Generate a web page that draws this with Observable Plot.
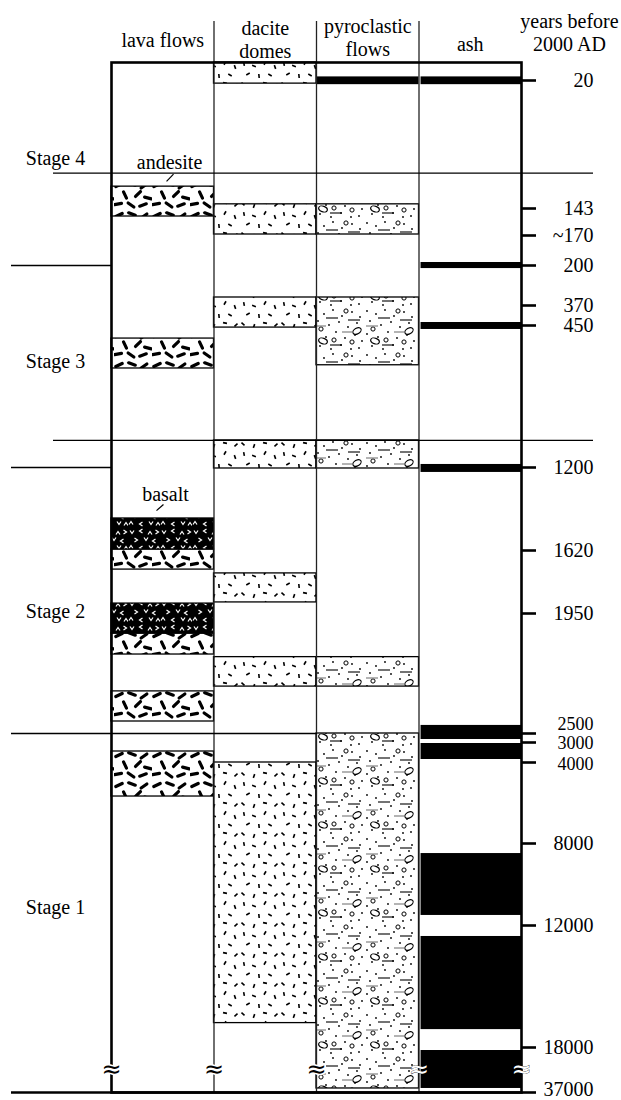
<!DOCTYPE html>
<html>
<head>
<meta charset="utf-8">
<script src="https://cdn.jsdelivr.net/npm/d3@7"></script>
<script src="https://cdn.jsdelivr.net/npm/@observablehq/plot@0.6"></script>
<style>
  html, body { margin: 0; padding: 0; background: #fff; }
</style>
</head>
<body>
<div id="chart"></div>
<script>
// ---------- data ----------
const columns = ["lava flows", "dacite domes", "pyroclastic flows", "ash"];
const columnHeaders = ["lava flows", "dacite\ndomes", "pyroclastic\nflows", "ash"];

// right-hand age ticks (years before 2000 AD)
const tickYears  = [20, 143, 170, 200, 370, 450, 1200, 1620, 1950, 2500, 3000, 4000, 8000, 12000, 18000, 37000];
const tickLabels = ["20", "143", "~170", "200", "370", "450", "1200", "1620", "1950", "2500", "3000", "4000", "8000", "12000", "18000", "37000"];

// lava flows column
const lavaRock = ["andesite", "andesite", "basalt", "andesite", "basalt", "andesite", "andesite", "andesite"];
const lavaTop  = [122, 519, 1458, 1615, 1898, 2042, 2307, 3450];
const lavaBase = [151, 677, 1615, 1720, 2042, 2138, 2445, 5680];

// dacite domes column
const daciteTop  = [0, 139, 336, 1057, 1740, 2150, 4000];
const daciteBase = [23, 169, 461, 1205, 1892, 2285, 16800];

// pyroclastic flows column (first entry: ash band that also crosses this column)
const pyroRock = ["ash", "pyroclastic", "pyroclastic", "pyroclastic", "pyroclastic", "pyroclastic"];
const pyroTop  = [16, 139, 336, 1057, 2150, 2500];
const pyroBase = [24, 169, 660, 1205, 2285, 35300];

// ash column
const ashTop  = [16, 197, 438, 1184, 2463, 3050, 8490, 12540, 19270];
const ashBase = [24, 213, 471, 1225, 2833, 3850, 11510, 17120, 35300];

// stages
const stageNames     = ["Stage 4", "Stage 3", "Stage 2", "Stage 1"];
const stageLabelYear = [101, 677, 1970, 11416];
const longBoundaries  = [109, 1057];   // lines crossing the columns
const shortBoundaries = [200, 1200];   // lines on the left margin only
const fullBoundaries  = [2500];

// rock labels
const rockLabelText = ["andesite", "basalt"];
const rockLabelPos  = [0.566, 0.527];   // position across the lava column
const rockLabelYear = [105, 1372];
const leaderFrom = [[0.605, 110], [0.507, 1387]];
const leaderTo   = [[0.537, 117], [0.439, 1418]];

const breakYear = 27000;

// ---------- build tables ----------
const layers = [
  ...lavaRock.map((r, i) => ({col: 0, rock: r, top: lavaTop[i], base: lavaBase[i]})),
  ...daciteTop.map((t, i) => ({col: 1, rock: "dacite", top: t, base: daciteBase[i]})),
  ...pyroRock.map((r, i) => ({col: 2, rock: r, top: pyroTop[i], base: pyroBase[i]})),
  ...ashTop.map((t, i) => ({col: 3, rock: "ash", top: t, base: ashBase[i]}))
];
const stages = stageNames.map((s, i) => ({name: s, year: stageLabelYear[i]}));
const ticks = tickYears.map((y, i) => ({year: y, label: tickLabels[i]}));
const rockLabels = rockLabelText.map((t, i) => ({text: t, x: rockLabelPos[i], year: rockLabelYear[i]}));
const leaders = leaderFrom.map((f, i) => ({x1: f[0], y1: f[1], x2: leaderTo[i][0], y2: leaderTo[i][1]}));

const rockFill = {
  andesite: "url(#pat-andesite)",
  basalt: "url(#pat-basalt)",
  dacite: "url(#pat-dacite)",
  pyroclastic: "url(#pat-pyro)",
  ash: "black"
};

const headerDy = [-16, -5, -7, -12];
// crowded labels: nudge and slightly smaller
const labelNudge = {2500: -9, 3000: 1, 4000: 2, 37000: -3};
const crowded = new Set([2500, 3000, 4000]);
const serif = "'Liberation Serif', 'Times New Roman', Times, serif";

const layerMarks = Object.keys(rockFill).map(r =>
  Plot.rect(layers.filter(d => d.rock === r), {
    x1: d => d.col + (r === "ash" && d.col === 3 ? 0.02 : 0),
    x2: d => d.col + 1,
    y1: "top", y2: "base",
    fill: rockFill[r],
    stroke: r === "ash" ? "none" : "black",
    strokeWidth: 1.3
  })
);

const tickLabelMarks = ticks.map(t =>
  Plot.text([t], {
    y: "year", text: "label", frameAnchor: "right", dx: 72,
    dy: labelNudge[t.year] ?? 0, textAnchor: "end",
    fontSize: crowded.has(t.year) ? 18 : 20
  })
);

const plot = Plot.plot({
  width: 621,
  height: 1100,
  marginLeft: 111,
  marginRight: 100,
  marginTop: 62,
  marginBottom: 8,
  style: {fontFamily: serif, fontSize: "20px", background: "white", color: "black"},
  x: {type: "linear", domain: [0, 4], axis: null},
  y: {
    type: "linear",
    domain: [0, 20, 143, 170, 200, 370, 450, 1200, 1620, 1950, 2500, 3000, 4000, 8000, 12000, 18000, 37000],
    range:  [62, 80, 208, 235, 265, 305, 325, 467, 550, 613, 733, 742, 762, 843, 925, 1047, 1092],
    axis: null
  },
  marks: [
    ...layerMarks,
    // column dividers (extend up between headers)
    Plot.ruleX([1, 2, 3], {x: d => d, insetTop: -41, stroke: "#222", strokeWidth: 1.3}),
    // stage boundaries
    Plot.ruleY(longBoundaries, {y: d => d, insetLeft: -58, insetRight: -72, stroke: "black", strokeWidth: 1.3}),
    Plot.ruleY(shortBoundaries, {y: d => d, insetLeft: -100, insetRight: 410, stroke: "black", strokeWidth: 1.3}),
    Plot.ruleY(fullBoundaries, {y: d => d, insetLeft: -100, insetRight: 204, stroke: "black", strokeWidth: 1.3}),
    // frame
    Plot.frame({stroke: "black", strokeWidth: 2.6}),
    Plot.ruleY([37000], {y: d => d, insetLeft: -100, stroke: "black", strokeWidth: 2.6}),
    // age ticks and labels
    Plot.ruleY(ticks, {y: "year", insetLeft: 410, insetRight: -15, stroke: "black", strokeWidth: 2.6}),
    ...tickLabelMarks,
    // break symbols
    Plot.text([0, 1, 2], {x: d => d, y: () => breakYear, text: () => "≈", fill: "black", stroke: "white", strokeWidth: 3, paintOrder: "stroke", fontSize: 24, fontFamily: "DejaVu Sans"}),
    Plot.text([3, 4], {x: d => d, y: () => breakYear, text: () => "≈", fill: "white", stroke: "black", strokeWidth: 0.6, fontSize: 24, fontFamily: "DejaVu Sans"}),
    // column headers
    ...columns.map((c, i) => Plot.text([c], {
      x: () => i + 0.5, text: () => columnHeaders[i],
      frameAnchor: "top", lineAnchor: "bottom", dy: headerDy[i], lineHeight: 1.12, fontSize: 20
    })),
    Plot.text(["years before\n2000 AD"], {
      text: d => d, frameAnchor: "top-right", dx: 48, dy: -12,
      lineAnchor: "bottom", textAnchor: "middle", lineHeight: 1.12, fontSize: 20
    }),
    // stage labels
    Plot.text(stages, {y: "year", text: "name", frameAnchor: "left", dx: -56, textAnchor: "middle", lineAnchor: "bottom", fontSize: 20}),
    // rock labels with leaders
    Plot.text(rockLabels, {x: "x", y: "year", text: "text", lineAnchor: "bottom", fontSize: 20}),
    Plot.link(leaders, {x1: "x1", y1: "y1", x2: "x2", y2: "y2", stroke: "black", strokeWidth: 1.2})
  ]
});

// ---------- fill textures ----------
function addPatterns(svg) {
  const defs = d3.select(svg).insert("defs", ":first-child");
  function tile(id, w, h, bg) {
    const p = defs.append("pattern").attr("id", id)
      .attr("patternUnits", "userSpaceOnUse").attr("width", w).attr("height", h);
    p.append("rect").attr("width", w).attr("height", h).attr("fill", bg);
    return p;
  }
  // andesite: thick black dashes
  const a = tile("pat-andesite", 38, 30, "white");
  [[5,5,-25],[18,4,20],[30,6,-35],[11,15,65],[24,14,-45],[34,18,15],[4,24,-10],[17,25,35],[29,25,-20]]
    .forEach(([x, y, r]) => a.append("line").attr("x1", -3.5).attr("x2", 3.5)
      .attr("transform", `translate(${x},${y}) rotate(${r})`)
      .attr("stroke", "black").attr("stroke-width", 3.2).attr("stroke-linecap", "round"));
  // dacite: sparse thin ticks
  const dc = tile("pat-dacite", 40, 30, "white");
  [[4,4,80],[14,6,20],[25,3,-60],[35,7,70],[8,14,-30],[19,16,85],[30,15,30],[3,24,40],[14,26,-70],[25,23,10],[36,25,-40]]
    .forEach(([x, y, r]) => dc.append("line").attr("x1", -2).attr("x2", 2)
      .attr("transform", `translate(${x},${y}) rotate(${r})`)
      .attr("stroke", "black").attr("stroke-width", 1.6));
  // pyroclastic: dots, small circles, ellipses and dashes
  const py = tile("pat-pyro", 52, 44, "white");
  [[3,3],[12,6],[21,2],[30,8],[40,4],[48,9],[6,13],[17,17],[27,14],[36,19],[45,15],[3,26],[14,29],[24,24],[33,30],[43,27],[50,33],[8,38],[19,41],[29,37],[39,41],[47,40]]
    .forEach(([x, y]) => py.append("circle").attr("cx", x).attr("cy", y).attr("r", 0.9).attr("fill", "black"));
  [[34,3],[9,21],[40,34],[22,32]]
    .forEach(([x, y]) => py.append("circle").attr("cx", x).attr("cy", y).attr("r", 2.1).attr("fill", "none").attr("stroke", "black").attr("stroke-width", 1));
  [[45,23,-30],[11,33,20]]
    .forEach(([x, y, r]) => py.append("ellipse").attr("rx", 4.5).attr("ry", 2.8)
      .attr("transform", `translate(${x},${y}) rotate(${r})`)
      .attr("fill", "none").attr("stroke", "black").attr("stroke-width", 1.1));
  [[14,10,"black"],[30,24,"#777"],[2,18,"#777"],[36,12,"black"],[18,37,"black"]]
    .forEach(([x, y, c]) => py.append("line").attr("x1", x).attr("x2", x + 12).attr("y1", y).attr("y2", y)
      .attr("stroke", c).attr("stroke-width", 1.1));
  // basalt: black with small white angle marks
  const b = tile("pat-basalt", 32, 24, "black");
  [[4,4,0],[13,3,90],[22,5,180],[29,4,-90],[8,12,-90],[18,11,0],[26,13,90],[3,19,180],[13,20,90],[23,19,0],[30,20,180]]
    .forEach(([x, y, r]) => b.append("path").attr("d", "M-2,-1.5 L0,1.5 L2,-1.5")
      .attr("transform", `translate(${x},${y}) rotate(${r})`)
      .attr("fill", "none").attr("stroke", "white").attr("stroke-width", 1.2));
}
addPatterns(plot);

document.getElementById("chart").appendChild(plot);
</script>
</body>
</html>
